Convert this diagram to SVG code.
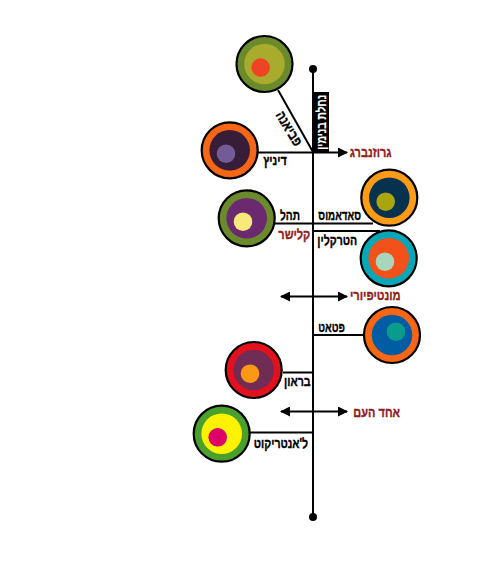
<svg xmlns="http://www.w3.org/2000/svg" width="490" height="571" viewBox="0 0 490 571">
<style>
.ln{stroke:#000;stroke-width:2;fill:none}
.o{stroke:#000;stroke-width:2.2}
text{font-family:"Liberation Sans",Arial,sans-serif;font-weight:700;font-size:14px;text-anchor:middle;stroke-width:.35}
.k{fill:#000;stroke:#000}
.r{fill:#8f1d21;stroke:#8f1d21}
.w{fill:#fff;stroke:#fff;stroke-width:.2;font-size:12.500px}
</style>
<defs>
<marker id="a" markerWidth="10" markerHeight="10" refX="9" refY="5" orient="auto-start-reverse" markerUnits="userSpaceOnUse"><path d="M0 0L10 5L0 10Z" fill="#000"/></marker>
</defs>
<rect width="490" height="571" fill="#fff"/>
<g id="connectors">
<path class="ln" d="M313 69V517"/>
<circle cx="313" cy="69" r="4"/><circle cx="313" cy="517" r="4"/>
<path class="ln" d="M278 90L313 152"/>
<path class="ln" d="M258 152.500H347" marker-end="url(#a)"/>
<path class="ln" d="M275 223.500H373"/>
<path class="ln" d="M313 231H380"/>
<path class="ln" d="M281 296.500H347" marker-start="url(#a)" marker-end="url(#a)"/>
<path class="ln" d="M313 335H363"/>
<path class="ln" d="M283 372.500H313"/>
<path class="ln" d="M281 411.500H347" marker-start="url(#a)" marker-end="url(#a)"/>
<path class="ln" d="M250 432.500H313"/>
</g>
<g id="station-label"><rect x="313.500" y="92" width="15.500" height="60" fill="#000"/><text class="w" transform="translate(325.500 122.300) rotate(-90)" textLength="55" lengthAdjust="spacingAndGlyphs">נחלת בנימין</text></g>
<g id="fabiana"><circle class="o" cx="264.500" cy="64" r="28" fill="#6a8a2b"/><circle cx="264.500" cy="64" r="20.300" fill="#a8ab2c"/><circle cx="260.700" cy="67.500" r="9.300" fill="#ef4423"/><text class="k" transform="translate(285 131) rotate(59)" textLength="38" lengthAdjust="spacingAndGlyphs">פביאנה</text></g>
<g id="diniz"><circle class="o" cx="229.700" cy="150.300" r="28" fill="#f96614"/><circle cx="229.700" cy="150.300" r="20.300" fill="#371d38"/><circle cx="226" cy="153.700" r="9.300" fill="#735b97"/><text class="k" x="275" y="165" textLength="23.500" lengthAdjust="spacingAndGlyphs">דיניץ</text></g>
<g id="grozenberg"><text class="r" x="370.700" y="156.500" textLength="41.700" lengthAdjust="spacingAndGlyphs">גרוזנברג</text></g>
<g id="tahel"><circle class="o" cx="246.700" cy="218.300" r="28" fill="#6a8a2b"/><circle cx="246.700" cy="218.300" r="20.300" fill="#6b2a70"/><circle cx="243" cy="221.700" r="9.300" fill="#f8e979"/><text class="k" x="290" y="220" textLength="20" lengthAdjust="spacingAndGlyphs">תהל</text></g>
<g id="sadamos"><circle class="o" cx="389.300" cy="197.700" r="28" fill="#fe9c18"/><circle cx="389.300" cy="197.700" r="20.300" fill="#07324f"/><circle cx="385.700" cy="201.700" r="9.300" fill="#aaa50f"/><text class="k" x="339.700" y="220" textLength="42.700" lengthAdjust="spacingAndGlyphs">סאדאמוס</text></g>
<g id="klisher"><text class="r" x="294.300" y="238.500" textLength="32" lengthAdjust="spacingAndGlyphs">קלישר</text></g>
<g id="hatraklin"><circle class="o" cx="388.700" cy="258.300" r="28" fill="#08a7b8"/><circle cx="388.700" cy="258.300" r="20.300" fill="#f25119"/><circle cx="385" cy="261.700" r="9.300" fill="#a9d5bd"/><text class="k" x="337.300" y="245" textLength="40" lengthAdjust="spacingAndGlyphs">הטרקלין</text></g>
<g id="montefiore"><text class="r" x="375.300" y="300" textLength="50.700" lengthAdjust="spacingAndGlyphs">מונטיפיורי</text></g>
<g id="patat"><circle class="o" cx="392" cy="335" r="28" fill="#f96614"/><circle cx="392" cy="335" r="20.300" fill="#005da3"/><circle cx="396" cy="331.700" r="9.300" fill="#0a9c8a"/><text class="k" x="331.700" y="332" textLength="26.700" lengthAdjust="spacingAndGlyphs">פטאט</text></g>
<g id="braun"><circle class="o" cx="253.700" cy="370" r="28" fill="#e3101e"/><circle cx="253.700" cy="370" r="20.300" fill="#702c54"/><circle cx="250" cy="373.700" r="9.300" fill="#fd9816"/><text class="k" x="297.300" y="386" textLength="26.700" lengthAdjust="spacingAndGlyphs">בראון</text></g>
<g id="ahad-haam"><text class="r" x="376.700" y="416.500" textLength="46.700" lengthAdjust="spacingAndGlyphs">אחד העם</text></g>
<g id="lentrecote"><circle class="o" cx="221.700" cy="433.700" r="28" fill="#4aa02c"/><circle cx="221.700" cy="433.700" r="20.300" fill="#fff200"/><circle cx="217.700" cy="437.300" r="9.300" fill="#dc0067"/><text class="k" x="281" y="448" textLength="54.300" lengthAdjust="spacingAndGlyphs">ל'אנטריקוט</text></g>
</svg>
